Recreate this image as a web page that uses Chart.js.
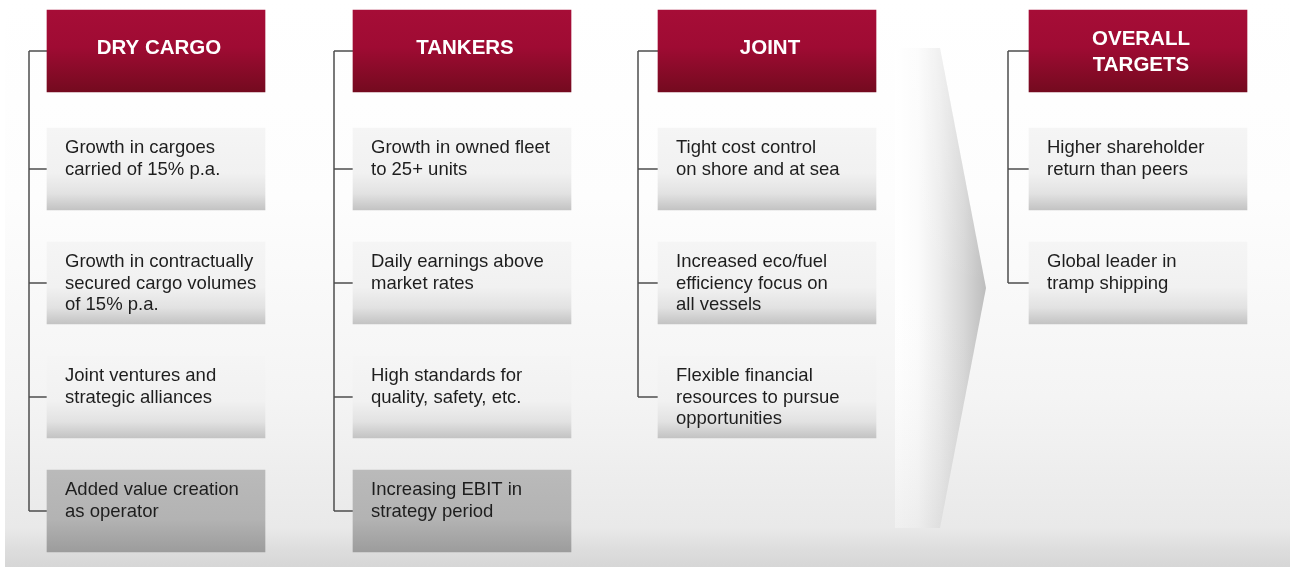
<!DOCTYPE html>
<html>
<head>
<meta charset="utf-8">
<script src="https://cdn.jsdelivr.net/npm/chart.js@4"></script>
<style>
  html, body { margin: 0; padding: 0; background: #fff; }
  #wrap { width: 1290px; height: 567px; position: relative; }
</style>
</head>
<body>
<div id="wrap"><canvas id="strategyChart"></canvas></div>
<script>
// data
const columnTitles = ["DRY CARGO", "TANKERS", "JOINT", "OVERALL\nTARGETS"]
const dryCargoTargets = [
  "Growth in cargoes\ncarried of 15% p.a.",
  "Growth in contractually\nsecured cargo volumes\nof 15% p.a.",
  "Joint ventures and\nstrategic alliances",
  "Added value creation\nas operator",
]
const tankersTargets = [
  "Growth in owned fleet\nto 25+ units",
  "Daily earnings above\nmarket rates",
  "High standards for\nquality, safety, etc.",
  "Increasing EBIT in\nstrategy period",
]
const jointTargets = [
  "Tight cost control\non shore and at sea",
  "Increased eco/fuel\nefficiency focus on\nall vessels",
  "Flexible financial\nresources to pursue\nopportunities",
]
const overallTargets = [
  "Higher shareholder\nreturn than peers",
  "Global leader in\ntramp shipping",
]
// targets shown in the darker grey box
const highlightedTargets = ["Added value creation\nas operator", "Increasing EBIT in\nstrategy period"]

// layout (1 axis unit = 1 canvas pixel)
var colLeft = [47, 353, 658, 1029]
var connectorX = [29, 334, 638, 1008]
var rowTop = [10, 128, 242, 356, 470]
var boxW = 218
var boxH = 82
var arrow = { left: 895, shoulder: 940, tip: 986, top: 48, bottom: 528 }

var columns = [dryCargoTargets, tankersTargets, jointTargets, overallTargets]

var boxes = []
columns.forEach(function (items, c) {
  boxes.push({ x: colLeft[c] + boxW / 2, y: [rowTop[0], rowTop[0] + boxH], kind: "header", text: columnTitles[c] })
  items.forEach(function (t, i) {
    boxes.push({
      x: colLeft[c] + boxW / 2,
      y: [rowTop[i + 1], rowTop[i + 1] + boxH],
      kind: highlightedTargets.indexOf(t) >= 0 ? "dark" : "light",
      text: t,
    })
  })
})

// connector lines, broken with null points
var connectorData = []
columns.forEach(function (items, c) {
  var mids = [rowTop[0] + boxH / 2]
  items.forEach(function (t, i) { mids.push(rowTop[i + 1] + boxH / 2) })
  var lx = connectorX[c]
  var bx = colLeft[c]
  connectorData.push({ x: lx, y: mids[0] }, { x: lx, y: mids[mids.length - 1] }, { x: lx, y: null })
  mids.forEach(function (m) {
    connectorData.push({ x: lx, y: m }, { x: bx, y: m }, { x: bx, y: null })
  })
})

var flatColor = { header: "#9a0b31", dark: "#b3b3b3", light: "#ececec" }

function boxFill(context) {
  var chart = context.chart
  var raw = context.raw
  if (!raw || !raw.kind) return "#ccc"
  var y = chart.scales && chart.scales.y
  var t = y ? y.getPixelForValue(raw.y[0]) : NaN
  var b = y ? y.getPixelForValue(raw.y[1]) : NaN
  if (!isFinite(t) || !isFinite(b) || t === b) return flatColor[raw.kind]
  var g = chart.ctx.createLinearGradient(0, t, 0, b)
  if (raw.kind === "header") {
    g.addColorStop(0, "#a60d37")
    g.addColorStop(0.45, "#9f0b33")
    g.addColorStop(1, "#740a1f")
  } else if (raw.kind === "dark") {
    g.addColorStop(0, "#bababa")
    g.addColorStop(0.6, "#b3b3b3")
    g.addColorStop(1, "#9c9c9c")
  } else {
    g.addColorStop(0, "#f5f5f5")
    g.addColorStop(0.55, "#f1f1f1")
    g.addColorStop(0.8, "#e2e2e2")
    g.addColorStop(1, "#c3c3c3")
  }
  return g
}

var backdropPlugin = {
  id: "backdrop",
  beforeDatasetsDraw: function (chart) {
    var ctx = chart.ctx
    var xs = chart.scales.x, ys = chart.scales.y
    var px = function (v) { return xs.getPixelForValue(v) }
    var py = function (v) { return ys.getPixelForValue(v) }
    ctx.save()
    ctx.fillStyle = "#ffffff"
    ctx.fillRect(0, 0, chart.width, chart.height)
    var g = ctx.createLinearGradient(0, py(0), 0, py(567))
    g.addColorStop(0, "#ffffff")
    g.addColorStop(0.35, "#fdfdfd")
    g.addColorStop(0.7, "#f4f4f4")
    g.addColorStop(0.93, "#e9e9e9")
    g.addColorStop(0.97, "#dddddd")
    g.addColorStop(1, "#d6d6d6")
    ctx.fillStyle = g
    ctx.fillRect(px(5), 0, chart.width, chart.height)

    // the big arrow
    ctx.beginPath()
    ctx.moveTo(px(arrow.left), py(arrow.top))
    ctx.lineTo(px(arrow.shoulder), py(arrow.top))
    ctx.lineTo(px(arrow.tip), py((arrow.top + arrow.bottom) / 2))
    ctx.lineTo(px(arrow.shoulder), py(arrow.bottom))
    ctx.lineTo(px(arrow.left), py(arrow.bottom))
    ctx.closePath()
    var ag = ctx.createLinearGradient(px(arrow.left), 0, px(arrow.tip), 0)
    ag.addColorStop(0, "#ffffff")
    ag.addColorStop(0.25, "#fbfbfb")
    ag.addColorStop(0.5, "#ececec")
    ag.addColorStop(0.75, "#d8d8d8")
    ag.addColorStop(1, "#bdbdbd")
    ctx.fillStyle = ag
    ctx.fill()
    var vg = ctx.createLinearGradient(0, py(arrow.top), 0, py(arrow.bottom))
    vg.addColorStop(0, "rgba(255,255,255,0.2)")
    vg.addColorStop(0.5, "rgba(255,255,255,0)")
    vg.addColorStop(1, "rgba(0,0,0,0.06)")
    ctx.fillStyle = vg
    ctx.fill()
    ctx.restore()
  },
}

var labelPlugin = {
  id: "boxLabels",
  afterDatasetsDraw: function (chart) {
    var ctx = chart.ctx
    var meta = chart.getDatasetMeta(0)
    ctx.save()
    meta.data.forEach(function (el, i) {
      var raw = boxes[i]
      var lines = raw.text.split("\n")
      var top = Math.min(el.y, el.base)
      var left = el.x - el.width / 2
      ctx.textBaseline = "middle"
      if (raw.kind === "header") {
        ctx.fillStyle = "#ffffff"
        ctx.font = "bold 20.5px 'Liberation Sans', Arial, sans-serif"
        ctx.textAlign = "center"
        var first = lines.length > 1 ? top + 29.5 : top + 38
        lines.forEach(function (ln, k) {
          ctx.fillText(ln, el.x + 3, first + k * 26)
        })
      } else {
        ctx.fillStyle = "#1e1e1e"
        ctx.font = "18.5px 'Liberation Sans', Arial, sans-serif"
        ctx.textAlign = "left"
        lines.forEach(function (ln, k) {
          ctx.fillText(ln, left + 18, top + 20 + k * 21.7)
        })
      }
    })
    ctx.restore()
  },
}

var ctx = document.getElementById("strategyChart").getContext("2d")
var myChart = new Chart(ctx, {
  type: "bar",
  data: {
    datasets: [
      {
        type: "bar",
        data: boxes,
        barThickness: boxW,
        backgroundColor: boxFill,
        borderWidth: 0,
        borderSkipped: false,
        order: 1,
      },
      {
        type: "line",
        data: connectorData,
        borderColor: "#4d4d4d",
        borderWidth: 1.5,
        pointRadius: 0,
        fill: false,
        spanGaps: false,
        tension: 0,
        order: 2,
      },
    ],
  },
  options: {
    responsive: true,
    maintainAspectRatio: false,
    animation: false,
    layout: { padding: 0 },
    scales: {
      x: { type: "linear", min: 0, max: 1290, display: false, offset: false },
      y: { type: "linear", min: 0, max: 567, reverse: true, display: false },
    },
    plugins: {
      legend: { display: false },
      tooltip: { enabled: false },
    },
  },
  plugins: [backdropPlugin, labelPlugin],
})
</script>
</body>
</html>
